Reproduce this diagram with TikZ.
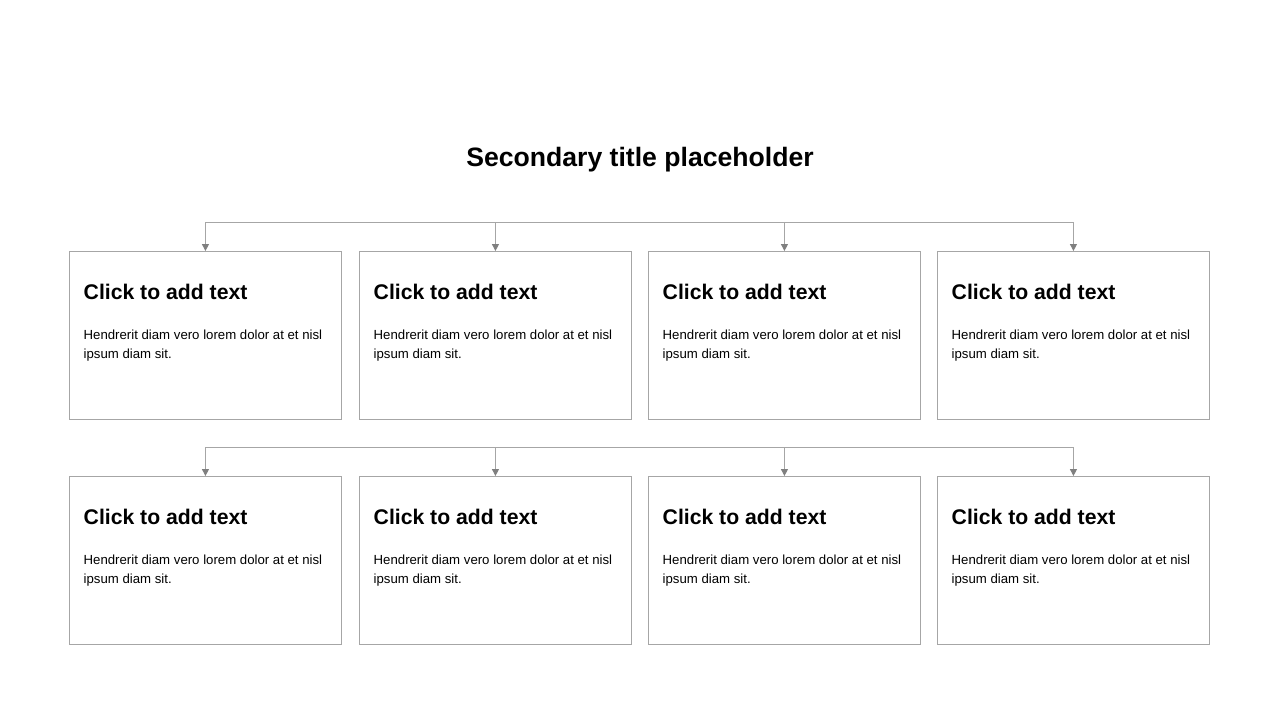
\documentclass[tikz,border=0pt]{standalone}
\usepackage{fontspec}
\setmainfont{Liberation Sans}
\usetikzlibrary{arrows.meta}
\definecolor{boxgray}{HTML}{A6A6A6}
\definecolor{tipgray}{HTML}{7F7F7F}
\tikzset{
  card/.style={draw=boxgray, line width=0.9pt, minimum width=272pt, minimum height=168pt, inner sep=0pt, anchor=north west},
  head/.style={anchor=base west, inner sep=0pt, font=\fontsize{21.2pt}{25pt}\selectfont\bfseries},
  body/.style={anchor=base west, inner sep=0pt, align=left, font=\fontsize{13.2pt}{19pt}\selectfont},
  bus/.style={draw=boxgray, line width=0.9pt},
  drop/.style={draw=boxgray, line width=0.9pt, -{Triangle[length=7pt,width=7pt,color=tipgray]}},
}
\begin{document}
\begin{tikzpicture}[x=1pt,y=-1pt]
\useasboundingbox[fill=white] (0,0) rectangle (1280,720);
\node[anchor=base, inner sep=0pt, font=\fontsize{26.6pt}{30pt}\selectfont\bfseries] (title) at (640,166) {Secondary title placeholder};
\foreach \r/\y in {1/251, 2/476}{
  \foreach \c/\x in {1/69, 2/359, 3/648, 4/937}{
    \node[card] (b\r\c) at (\x,\y) {};
    \node[head] (h\r\c) at ([xshift=14.5pt,yshift=-48pt]b\r\c.north west) {Click to add text};
    \node[body] (t\r\c) at ([xshift=14.5pt,yshift=-107pt]b\r\c.north west) {Hendrerit diam vero lorem dolor at et nisl\\ipsum diam sit.};
  }
}
\coordinate (bus1) at (0,222);
\coordinate (bus2) at (0,447);
\foreach \r in {1,2}{
  \draw[bus] (b\r1.north |- bus\r) -- (b\r4.north |- bus\r);
  \foreach \c in {1,2,3,4}{
    \draw[drop] (b\r\c.north |- bus\r) -- (b\r\c.north);
  }
}
\end{tikzpicture}
\end{document}
